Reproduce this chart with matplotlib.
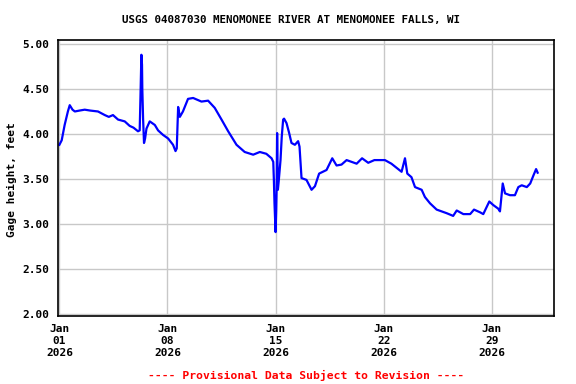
import pandas as pd
import matplotlib
matplotlib.use("Agg")
import matplotlib.pyplot as plt
import matplotlib.dates as mdates

# Gage height readings (days since Jan 01 2026, feet)
days = [0.0, 0.15, 0.34, 0.55, 0.67, 0.85, 1.0, 1.3, 1.64, 2.0, 2.5, 2.94,
        3.2, 3.47, 3.8, 4.23, 4.55, 4.8, 5.09, 5.2, 5.25, 5.31, 5.35, 5.37,
        5.42, 5.48, 5.55, 5.64, 5.85, 6.18, 6.39, 6.71, 7.04, 7.36, 7.52,
        7.6, 7.69, 7.8, 8.0, 8.33, 8.66, 9.2, 9.63, 10.06, 10.5, 10.93,
        11.47, 12.0, 12.55, 12.98, 13.4, 13.74, 13.85, 13.89, 13.93, 14.0,
        14.04, 14.07, 14.1, 14.15, 14.2, 14.32, 14.4, 14.49, 14.55, 14.71,
        14.88, 15.03, 15.25, 15.46, 15.55, 15.68, 16.0, 16.33, 16.55, 16.82,
        17.3, 17.67, 17.95, 18.27, 18.6, 19.25, 19.6, 20.0, 20.4, 21.08,
        21.5, 21.94, 22.16, 22.38, 22.53, 22.8, 23.03, 23.46, 23.67, 24.0,
        24.43, 25.08, 25.5, 25.73, 26.16, 26.6, 26.85, 27.24, 27.45, 27.84,
        28.1, 28.42, 28.53, 28.63, 28.71, 28.86, 29.18, 29.5, 29.72, 29.94,
        30.27, 30.49, 30.7, 30.87, 30.97]
gage_ft = [3.88, 3.93, 4.10, 4.25, 4.32, 4.27, 4.25, 4.26, 4.27, 4.26, 4.25, 4.21,
           4.19, 4.21, 4.16, 4.14, 4.09, 4.07, 4.03, 4.04, 4.41, 4.88, 4.77, 4.50,
           4.17, 3.90, 3.95, 4.06, 4.14, 4.10, 4.04, 3.99, 3.95, 3.88, 3.81,
           3.84, 4.30, 4.19, 4.25, 4.39, 4.40, 4.36, 4.37, 4.29, 4.16, 4.03,
           3.88, 3.80, 3.77, 3.80, 3.78, 3.73, 3.69, 3.49, 3.23, 2.91,
           3.14, 3.40, 4.01, 3.38, 3.47, 3.71, 3.97, 4.16, 4.17, 4.12,
           4.01, 3.90, 3.88, 3.92, 3.86, 3.51, 3.49, 3.38, 3.42, 3.56,
           3.60, 3.73, 3.65, 3.66, 3.71, 3.67, 3.73, 3.68, 3.71, 3.71,
           3.67, 3.61, 3.58, 3.73, 3.56, 3.52, 3.41, 3.38, 3.30, 3.23,
           3.16, 3.12, 3.09, 3.15, 3.11, 3.11, 3.16, 3.13, 3.11, 3.25,
           3.21, 3.17, 3.14, 3.31, 3.45, 3.34, 3.32, 3.32, 3.41, 3.43,
           3.41, 3.45, 3.54, 3.61, 3.57]

start = pd.Timestamp("2026-01-01")
times = start + pd.to_timedelta(days, unit="D")
tick_days = [0, 7, 14, 21, 28]
ticks = [start + pd.Timedelta(days=d) for d in tick_days]

plt.rcParams["font.family"] = ["DejaVu Sans Mono"]
plt.rcParams["font.weight"] = "bold"

fig = plt.figure(figsize=(5.76, 3.84), dpi=100)
ax = fig.add_axes([58 / 576, 1 - 316 / 384, (554 - 58) / 576, (316 - 40) / 384])

ax.plot(times, gage_ft, color="#0000ff", linewidth=1.6)

ax.set_xlim(start - pd.Timedelta(days=0.09), start + pd.Timedelta(days=32.03))
ax.set_ylim(1.978, 5.044)
ax.set_yticks([2.0, 2.5, 3.0, 3.5, 4.0, 4.5, 5.0])
ax.yaxis.set_major_formatter(matplotlib.ticker.FormatStrFormatter("%.2f"))
ax.set_xticks(ticks)
ax.xaxis.set_major_formatter(mdates.DateFormatter("%b\n%d\n%Y"))
ax.tick_params(length=0, labelsize=8)
ax.tick_params(axis="y", pad=6)
ax.tick_params(axis="x", pad=6)
ax.grid(True, color="#c8c8c8", linewidth=1.0)
ax.set_axisbelow(True)
for s in ax.spines.values():
    s.set_color("black")
    s.set_linewidth(1.2)

fig.text(12 / 576, 1 - 180 / 384, "Gage height, feet", rotation=90,
         ha="center", va="center", fontsize=8, fontweight="bold")
fig.text(0.505, 1 - 20 / 384, "USGS 04087030 MENOMONEE RIVER AT MENOMONEE FALLS, WI",
         ha="center", va="center", fontsize=7.8, fontweight="bold")
fig.text(306 / 576, 1 - 375 / 384, "---- Provisional Data Subject to Revision ----",
         ha="center", va="center", fontsize=8.2, fontweight="bold", color="red")

fig.savefig("out.png", dpi=100)
